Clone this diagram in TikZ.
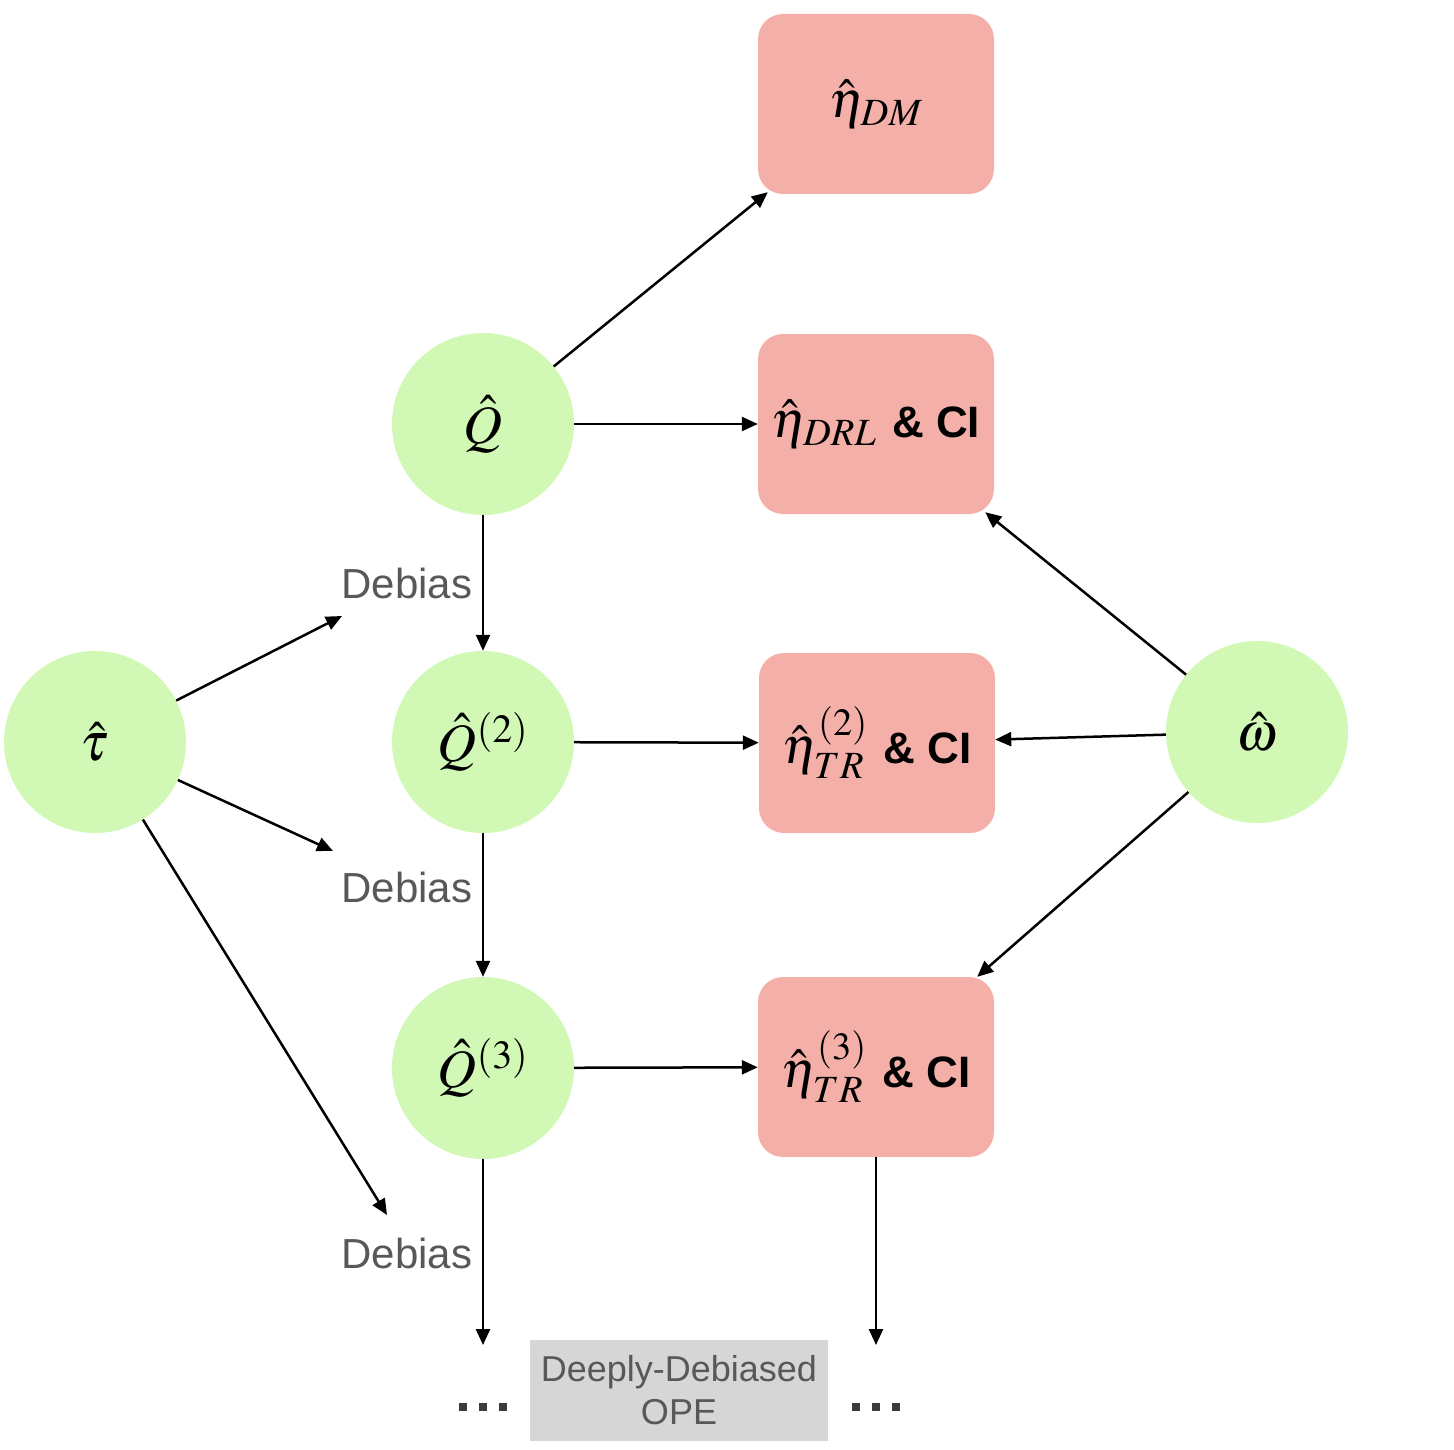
\documentclass[tikz,border=0pt]{standalone}
\usepackage{mathptmx}
\usepackage[no-math]{fontspec}
\newfontfamily\arial{Liberation Sans}
\usetikzlibrary{arrows.meta}
\definecolor{cgreen}{RGB}{209,248,181}
\definecolor{cpink}{RGB}{244,176,168}
\definecolor{cgray}{RGB}{214,214,214}
\definecolor{cgraytext}{RGB}{88,88,88}
\definecolor{cdots}{RGB}{60,60,60}
\newcommand{\andci}{{\arial\bfseries\fontsize{44}{50}\selectfont\&~CI}}
\begin{document}
\begin{tikzpicture}[x=1pt,y=-1pt,
  circ/.style={circle, fill=cgreen, minimum size=182pt, inner sep=0pt, font=\fontsize{54}{60}\selectfont},
  est/.style={rounded corners=25pt, fill=cpink, minimum width=236pt, minimum height=180pt, inner sep=0pt, font=\fontsize{52}{58}\selectfont},
  arr/.style={line width=2.5pt, -{Triangle[length=16pt,width=14pt]}},
  lbl/.style={text=cgraytext, font=\arial\fontsize{42}{48}\selectfont, inner sep=0pt},
  dotsq/.style={fill=cdots}
]
\useasboundingbox (0,0) rectangle (1454,1450);

% circles
\node[circ] (q)   at (483,424)  {$\hat{Q}$};
\node[circ] (q2)  at (483,742)  {$\hat{Q}^{(2)}$};
\node[circ] (q3)  at (483,1068) {$\hat{Q}^{(3)}$};
\node[circ] (tau) at (95,742)   {$\hat{\tau}$};
\node[circ] (om)  at (1257,732) {$\hat{\omega}$};

% estimator boxes
\node[est] (dm)  at (876,104)  {$\hat{\eta}_{DM}$};
\node[est] (drl) at (876,424)  {$\hat{\eta}_{DRL}$ \andci};
\node[est] (tr2) at (877,743)  {$\hat{\eta}^{(2)}_{TR}$ \andci};
\node[est] (tr3) at (876,1067) {$\hat{\eta}^{(3)}_{TR}$ \andci};

% debias labels
\node[lbl] (d1) at (407,583)  {Debias};
\node[lbl] (d2) at (407,887)  {Debias};
\node[lbl] (d3) at (407,1253) {Debias};
\coordinate (t1) at (342,616);
\coordinate (t2) at (333,851);
\coordinate (t3) at (387,1215);

% bottom
\node[fill=cgray, minimum width=298pt, minimum height=101pt, inner sep=0pt,
      text=cgraytext, align=center, font=\arial\fontsize{36}{43}\selectfont] (ope) at (679,1390) {Deeply-Debiased\\OPE};
\coordinate (dl) at (483,1407);
\coordinate (dr) at (876,1407);
\foreach \dx in {-20,0,20} {
  \fill[dotsq] ([xshift=\dx pt]dl) +(-4,-4) rectangle +(4,4);
  \fill[dotsq] ([xshift=\dx pt]dr) +(-4,-4) rectangle +(4,4);
}

% connectors
\draw[arr] (q) -- ([xshift=10pt,yshift=2pt]dm.south west);
\draw[arr] (q) -- (drl);
\draw[arr] (q) -- (q2);
\draw[arr] (q2) -- (tr2);
\draw[arr] (q2) -- (q3);
\draw[arr] (q3) -- (tr3);
\draw[arr] (q3) -- ([yshift=62pt]dl);
\draw[arr] (tr3) -- ([yshift=62pt]dr);
\draw[arr] (tau) -- (t1);
\draw[arr] (tau) -- (t2);
\draw[arr] (tau) -- (t3);
\draw[arr] (om) -- ([xshift=-9pt,yshift=2pt]drl.south east);
\draw[arr] (om) -- (tr2);
\draw[arr] (om) -- ([xshift=-17pt]tr3.north east);
\end{tikzpicture}
\end{document}
